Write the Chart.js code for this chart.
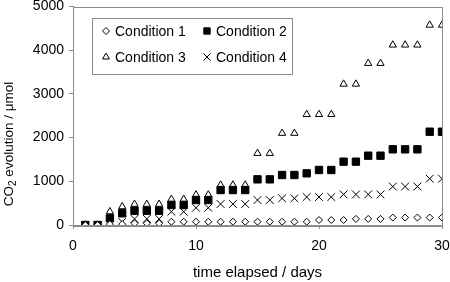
<!DOCTYPE html>
<html>
<head>
<meta charset="utf-8">
<script src="https://cdn.jsdelivr.net/npm/chart.js@4.4.1/dist/chart.umd.min.js"></script>
<style>
  html, body { margin: 0; padding: 0; background: #fff; }
  #wrap { position: relative; width: 450px; height: 282px; }
</style>
</head>
<body>
<div id="wrap"><canvas id="co2Chart" width="450" height="282"></canvas></div>
<script>
// Days on the x axis
var days = [1, 2, 3, 4, 5, 6, 7, 8, 9, 10, 11, 12, 13, 14, 15, 16, 17, 18, 19, 20, 21, 22, 23, 24, 25, 26, 27, 28, 29, 30];

// CO2 evolution per condition (umol)
var condition1 = [0, 0, 20, 20, 40, 40, 40, 75, 75, 75, 75, 75, 75, 75, 75, 75, 75, 75, 75, 115, 115, 115, 140, 140, 140, 170, 170, 170, 170, 170];
var condition2 = [0, 0, 153, 268, 327, 327, 327, 458, 458, 572, 572, 800, 800, 800, 1045, 1045, 1144, 1144, 1183, 1259, 1259, 1449, 1449, 1586, 1586, 1732, 1732, 1732, 2135, 2135];
var condition3 = [0, 0, 305, 420, 475, 475, 475, 590, 590, 690, 690, 915, 915, 915, 1640, 1640, 2100, 2100, 2530, 2530, 2530, 3225, 3225, 3700, 3700, 4120, 4120, 4120, 4575, 4575];
var condition4 = [0, 0, 50, 70, 140, 140, 140, 305, 305, 395, 395, 480, 480, 480, 570, 570, 610, 610, 640, 640, 640, 700, 700, 700, 700, 880, 880, 880, 1060, 1060];

var seriesNames = ['Condition 1', 'Condition 2', 'Condition 3', 'Condition 4'];

// Axis ticks and titles
var xTickStep = 10;
var yTickStep = 1000;
var xTitle = 'time elapsed / days';
var yTitleParts = ['CO', '2', ' evolution / \u03bcmol'];

function toPoints(values) {
    return values.map(function (v, i) { return { x: days[i], y: v }; });
}

var axisGrey = '#8c8c8c';
var fontFamily = '"Liberation Sans", Arial, sans-serif';

// Box around the plot area (top and right edges too)
var framePlugin = {
    id: 'frame',
    beforeDatasetsDraw: function (chart) {
        var a = chart.chartArea, ctx = chart.ctx;
        ctx.save();
        ctx.strokeStyle = axisGrey;
        ctx.lineWidth = 1;
        ctx.strokeRect(Math.round(a.left) + 0.5, Math.round(a.top) + 0.5,
            Math.round(a.right - a.left), Math.round(a.bottom - a.top));
        ctx.restore();
    }
};

// Rotated y title with a real subscript 2
var yTitlePlugin = {
    id: 'yTitle',
    afterDraw: function (chart) {
        var ctx = chart.ctx;
        ctx.save();
        ctx.translate(9, 144);
        ctx.rotate(-Math.PI / 2);
        ctx.fillStyle = '#000';
        ctx.textBaseline = 'middle';
        var big = '13.5px ' + fontFamily, small = '10px ' + fontFamily;
        ctx.font = big;
        var w0 = ctx.measureText(yTitleParts[0]).width;
        var w2 = ctx.measureText(yTitleParts[2]).width;
        ctx.font = small;
        var w1 = ctx.measureText(yTitleParts[1]).width;
        var x = -(w0 + w1 + w2) / 2;
        ctx.font = big;
        ctx.fillText(yTitleParts[0], x, 0);
        ctx.font = small;
        ctx.fillText(yTitleParts[1], x + w0, 4);
        ctx.font = big;
        ctx.fillText(yTitleParts[2], x + w0 + w1, 0);
        ctx.restore();
    }
};

// Two-column legend box inside the plot, drawn with the datasets' own point styles
var boxLegendPlugin = {
    id: 'boxLegend',
    afterDraw: function (chart) {
        var ctx = chart.ctx;
        var box = { x: 92, y: 18, w: 200, h: 56 };
        var cols = [106, 207];
        var rows = [31, 57];
        ctx.save();
        ctx.fillStyle = '#fff';
        ctx.fillRect(box.x, box.y, box.w, box.h);
        ctx.strokeStyle = axisGrey;
        ctx.lineWidth = 1;
        ctx.strokeRect(box.x + 0.5, box.y + 0.5, box.w, box.h);
        ctx.font = '14px ' + fontFamily;
        ctx.textBaseline = 'middle';
        chart.data.datasets.forEach(function (ds, i) {
            var cx = cols[i % 2], cy = rows[Math.floor(i / 2)];
            ctx.fillStyle = ds.pointBackgroundColor;
            ctx.strokeStyle = ds.pointBorderColor;
            ctx.lineWidth = ds.borderWidth;
            Chart.helpers.drawPoint(ctx, { pointStyle: ds.pointStyle, radius: ds.legendRadius, rotation: 0, borderWidth: ds.borderWidth }, cx, cy);
            ctx.fillStyle = '#000';
            ctx.fillText(ds.label, cx + 9, cy + 1);
        });
        ctx.restore();
    }
};

var ctx = document.getElementById('co2Chart').getContext('2d');

new Chart(ctx, {
    type: 'scatter',
    data: {
        datasets: [
            {
                label: seriesNames[0], data: toPoints(condition1),
                pointStyle: 'rectRot', pointRadius: 3.5, legendRadius: 3.5,
                pointBackgroundColor: '#fff', pointBorderColor: '#000', borderWidth: 1
            },
            {
                label: seriesNames[1], data: toPoints(condition2),
                pointStyle: 'rect', pointRadius: 5.2, legendRadius: 4.5,
                pointBackgroundColor: '#000', pointBorderColor: '#000', borderWidth: 1
            },
            {
                label: seriesNames[2], data: toPoints(condition3),
                pointStyle: 'triangle', pointRadius: 4.2, legendRadius: 4,
                pointBackgroundColor: 'rgba(255,255,255,0)', pointBorderColor: '#000', borderWidth: 1
            },
            {
                label: seriesNames[3], data: toPoints(condition4),
                pointStyle: 'crossRot', pointRadius: 5.5, legendRadius: 5,
                pointBackgroundColor: '#000', pointBorderColor: '#000', borderWidth: 1
            }
        ]
    },
    options: {
        responsive: false,
        animation: false,
        layout: { padding: { left: 0, right: 0, top: 6, bottom: 0 } },
        plugins: {
            legend: { display: false },
            tooltip: { enabled: false }
        },
        scales: {
            x: {
                type: 'linear',
                min: 0, max: 30,
                ticks: {
                    stepSize: xTickStep, color: '#000', padding: 9,
                    font: { family: fontFamily, size: 14 },
                    callback: function (v) { return String(v); }
                },
                grid: { drawOnChartArea: false, drawTicks: true, tickLength: 4, color: axisGrey },
                border: { color: axisGrey },
                title: {
                    display: true, text: xTitle, color: '#000',
                    font: { family: fontFamily, size: 15 }, padding: { top: 5, bottom: 0 }
                },
                afterFit: function (scale) {
                    scale.height = 57;
                    scale.paddingLeft = 0;
                    scale.paddingRight = 8;
                }
            },
            y: {
                min: 0, max: 5000,
                ticks: {
                    stepSize: yTickStep, color: '#000', padding: 5,
                    font: { family: fontFamily, size: 14 },
                    callback: function (v) { return String(v); }
                },
                grid: { drawOnChartArea: false, drawTicks: true, tickLength: 4, color: axisGrey },
                border: { color: axisGrey },
                afterFit: function (scale) {
                    scale.width = 73;
                    scale.paddingTop = 0;
                    scale.paddingBottom = 0;
                }
            }
        }
    },
    plugins: [framePlugin, yTitlePlugin, boxLegendPlugin]
});
</script>
</body>
</html>
